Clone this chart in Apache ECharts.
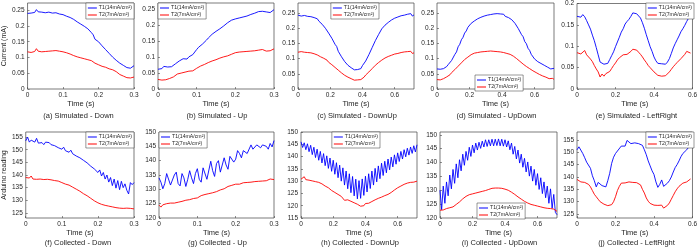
<!DOCTYPE html>
<html><head><meta charset="utf-8">
<script src="https://cdn.jsdelivr.net/npm/echarts@6/dist/echarts.min.js"></script>
<style>html,body{margin:0;padding:0;background:#fff}#c{width:700px;height:251px}</style>
</head><body><div id="c"></div>
<script>
// ---------- data ----------
const NAME1 = 'T1(14mA/cm²)';
const NAME2 = 'T2(7mA/cm²)';
const captions = ['(a) Simulated - Down','(b) Simulated - Up','(c) Simulated - DownUp','(d) Simulated - UpDown','(e) Simulated - LeftRight',
                  '(f) Collected - Down','(g) Collected - Up','(h) Collected - DownUp','(i) Collected - UpDown','(j) Collected - LeftRight'];
const xTicks03 = [0, 0.1, 0.2, 0.3];
const xTicks07 = [0, 0.2, 0.4, 0.6];
const xTicks06 = [0, 0.2, 0.4, 0.6];
const yTicksSim = [0, 0.05, 0.1, 0.15, 0.2, 0.25];
const yTicksE = [0, 0.05, 0.1, 0.15, 0.2];
const yTicksF = [125, 130, 135, 140, 145, 150, 155];
const yTicksG = [120, 125, 130, 135, 140, 145, 150];
const yTicksH = [115, 120, 125, 130, 135, 140, 145, 150];
const yTicksI = [120, 125, 130, 135, 140, 145, 150];
const yTicksJ = [125, 130, 135, 140, 145, 150, 155];

// (a) Simulated - Down, sampled every 0.005 s
const T1a = [0.240,0.244,0.241,0.247,0.243,0.252,0.245,0.249,0.244,0.248,
 0.242,0.246,0.244,0.247,0.241,0.245,0.242,0.243,0.238,0.240,
 0.236,0.237,0.231,0.233,0.227,0.225,0.221,0.219,0.213,0.212,
 0.206,0.204,0.199,0.196,0.191,0.186,0.179,0.172,0.158,0.155,
 0.150,0.146,0.137,0.133,0.125,0.121,0.113,0.110,0.101,0.097,
 0.091,0.088,0.082,0.079,0.075,0.071,0.068,0.070,0.066,0.069,
 0.074];
const T2a = [0.118,0.121,0.116,0.122,0.119,0.128,0.120,0.124,0.118,0.122,
 0.119,0.123,0.120,0.122,0.121,0.119,0.122,0.118,0.120,0.116,
 0.118,0.114,0.115,0.110,0.111,0.105,0.106,0.101,0.102,0.098,
 0.099,0.095,0.096,0.092,0.093,0.089,0.090,0.085,0.082,0.079,
 0.077,0.074,0.072,0.068,0.069,0.065,0.064,0.060,0.061,0.057,
 0.055,0.050,0.046,0.043,0.041,0.038,0.036,0.034,0.035,0.033,
 0.038];
// (b) Simulated - Up, every 0.005 s
const T1b = [0.062,0.068,0.064,0.071,0.067,0.069,0.065,0.070,0.074,0.079,
 0.083,0.088,0.091,0.095,0.097,0.094,0.101,0.103,0.108,0.114,
 0.124,0.131,0.136,0.141,0.146,0.153,0.160,0.166,0.172,0.176,
 0.181,0.185,0.189,0.194,0.198,0.203,0.208,0.212,0.216,0.217,
 0.220,0.219,0.223,0.221,0.226,0.224,0.229,0.231,0.234,0.233,
 0.238,0.241,0.243,0.248,0.244,0.246,0.242,0.245,0.240,0.244,
 0.249];
const T2b = [0.030,0.034,0.028,0.032,0.029,0.031,0.033,0.036,0.038,0.042,
 0.047,0.044,0.050,0.048,0.053,0.051,0.056,0.058,0.057,0.062,
 0.065,0.069,0.072,0.075,0.077,0.081,0.083,0.085,0.088,0.090,
 0.092,0.094,0.097,0.098,0.101,0.100,0.104,0.106,0.109,0.112,
 0.114,0.113,0.116,0.115,0.117,0.114,0.118,0.116,0.119,0.117,
 0.120,0.118,0.122,0.120,0.124,0.121,0.119,0.118,0.120,0.122,
 0.126];
// (c) Simulated - DownUp, every 0.01 s
const T1c = [0.243,0.246,0.240,0.245,0.242,0.244,0.239,0.241,0.238,0.240,
 0.235,0.230,0.231,0.223,0.222,0.213,0.212,0.200,0.199,0.184,
 0.182,0.167,0.163,0.147,0.140,0.124,0.119,0.106,0.102,0.090,
 0.087,0.078,0.078,0.070,0.072,0.063,0.066,0.064,0.067,0.067,
 0.077,0.077,0.092,0.096,0.113,0.118,0.136,0.141,0.159,0.163,
 0.179,0.183,0.198,0.198,0.210,0.209,0.219,0.217,0.227,0.224,
 0.233,0.230,0.237,0.235,0.241,0.237,0.243,0.239,0.246,0.242,
 0.248,0.240,0.244];
const T2c = [0.121,0.117,0.123,0.118,0.121,0.116,0.120,0.117,0.119,0.115,
 0.116,0.111,0.112,0.106,0.106,0.101,0.101,0.095,0.095,0.088,
 0.088,0.080,0.080,0.071,0.070,0.062,0.060,0.053,0.052,0.045,
 0.045,0.039,0.040,0.034,0.035,0.029,0.031,0.030,0.033,0.031,
 0.037,0.039,0.046,0.048,0.056,0.059,0.067,0.070,0.078,0.080,
 0.087,0.089,0.095,0.096,0.102,0.102,0.107,0.107,0.111,0.110,
 0.115,0.113,0.117,0.115,0.120,0.117,0.122,0.118,0.123,0.119,
 0.124,0.117,0.119];
// (d) Simulated - UpDown, every 0.01 s
const T1d = [0.066,0.070,0.065,0.069,0.067,0.072,0.074,0.081,0.084,0.094,
 0.100,0.114,0.122,0.139,0.147,0.162,0.170,0.184,0.191,0.203,
 0.206,0.216,0.216,0.224,0.224,0.231,0.229,0.236,0.234,0.240,
 0.236,0.243,0.238,0.245,0.240,0.247,0.241,0.248,0.243,0.247,
 0.242,0.246,0.239,0.242,0.235,0.235,0.228,0.227,0.216,0.212,
 0.199,0.194,0.179,0.172,0.156,0.149,0.134,0.127,0.114,0.110,
 0.099,0.098,0.090,0.091,0.084,0.086,0.078,0.080,0.072,0.071,
 0.066,0.072,0.068];
const T2d = [0.031,0.035,0.030,0.036,0.034,0.039,0.040,0.046,0.047,0.054,
 0.057,0.064,0.067,0.075,0.078,0.086,0.089,0.097,0.100,0.105,
 0.107,0.113,0.114,0.118,0.118,0.120,0.119,0.122,0.119,0.123,
 0.120,0.124,0.121,0.125,0.121,0.124,0.120,0.123,0.119,0.122,
 0.119,0.120,0.116,0.117,0.113,0.114,0.109,0.108,0.102,0.100,
 0.094,0.091,0.085,0.082,0.076,0.074,0.068,0.067,0.061,0.060,
 0.055,0.054,0.049,0.048,0.044,0.043,0.039,0.039,0.035,0.034,
 0.030,0.035,0.032];
// (e) Simulated - LeftRight, every 0.01 s
const T1e = [0.170,0.172,0.168,0.174,0.169,0.160,0.150,0.140,0.126,0.113,
 0.097,0.080,0.063,0.066,0.058,0.062,0.060,0.069,0.078,0.087,
 0.099,0.110,0.121,0.133,0.141,0.152,0.158,0.163,0.170,0.178,
 0.180,0.176,0.172,0.166,0.155,0.142,0.127,0.113,0.099,0.088,
 0.075,0.066,0.060,0.057,0.059,0.055,0.058,0.063,0.071,0.083,
 0.096,0.106,0.115,0.124,0.134,0.141,0.149,0.158,0.166];
const T2e = [0.085,0.088,0.082,0.086,0.090,0.080,0.076,0.070,0.064,0.055,
 0.047,0.040,0.028,0.035,0.030,0.036,0.038,0.041,0.048,0.055,
 0.061,0.068,0.073,0.077,0.080,0.082,0.081,0.084,0.088,0.093,
 0.089,0.091,0.086,0.081,0.075,0.068,0.062,0.055,0.050,0.046,
 0.040,0.036,0.032,0.028,0.030,0.026,0.031,0.034,0.040,0.046,
 0.052,0.057,0.062,0.066,0.071,0.075,0.081,0.088,0.092,0.084];
// (f) Collected - Down, every 0.005 s
const T1f = [153.5,155.0,153.0,153.8,153.2,153.0,154.5,152.6,153.3,152.8,
 152.0,153.0,152.4,152.8,152.0,152.5,151.6,152.2,150.8,151.5,
 150.2,151.0,149.6,150.3,149.0,149.8,148.4,149.0,147.5,148.2,
 146.8,147.4,145.8,146.5,144.8,145.4,143.5,144.2,142.4,143.0,
 141.0,142.0,139.6,141.0,138.4,140.0,137.2,139.0,135.8,138.4,
 134.8,137.8,134.2,137.5,135.0,136.5,134.0,132.5,137.0,136.2,
 137.0];
const T2f = [139.0,138.6,138.8,139.6,138.4,138.7,138.3,138.6,138.4,138.5,
 138.2,138.6,138.3,138.5,138.1,138.4,137.8,137.4,137.6,137.2,
 137.0,136.8,136.4,136.5,136.0,135.6,135.2,134.8,134.4,134.0,
 133.6,133.0,132.6,132.2,131.8,131.2,130.8,130.2,129.8,129.4,
 129.0,128.7,128.4,128.2,128.0,127.9,127.7,127.6,127.4,127.2,
 127.1,127.0,126.9,127.1,126.8,126.7,126.9,126.6,126.8,126.5,
 126.6];
// (g) Collected - Up, every 0.005 s
const T1g = [134.0,132.5,130.2,132.0,135.5,135.8,131.5,131.0,135.0,136.0,
 132.0,131.2,135.5,134.0,131.0,133.5,136.5,134.0,132.0,135.5,
 137.2,133.5,132.5,137.5,138.0,133.5,134.0,139.8,136.5,134.5,
 139.0,140.0,136.0,136.0,141.0,138.5,137.0,141.5,142.0,139.5,
 140.5,143.5,142.5,141.0,143.5,144.0,142.5,143.0,145.5,144.0,
 143.5,145.5,146.0,144.5,145.5,146.0,145.0,144.0,146.0,144.8,
 147.0];
const T2g = [124.5,123.8,124.6,124.2,125.0,124.6,125.2,124.8,125.2,125.0,
 125.5,125.2,125.8,125.6,126.2,126.0,126.4,126.3,126.8,127.2,
 127.0,127.6,127.8,127.5,128.2,128.0,128.5,128.3,128.8,129.0,
 129.2,129.4,129.8,129.6,130.2,130.8,131.0,130.9,131.4,131.3,
 131.8,132.0,131.8,132.1,132.3,132.1,132.4,132.6,132.5,132.8,
 132.7,133.0,132.8,133.2,132.9,133.4,133.0,133.3,133.6,133.1,
 133.4];
// (h) Collected - DownUp, every 0.01 s
const T1h = [146.0,143.7,145.6,142.8,145.2,142.0,144.6,140.8,143.8,139.6,
 143.0,138.5,142.1,137.4,141.2,136.3,140.3,135.2,139.4,134.0,
 138.5,132.8,137.5,131.4,136.5,130.0,135.4,128.4,134.1,126.9,
 133.0,125.3,131.9,124.0,130.8,122.8,130.2,123.0,130.9,124.2,
 132.0,125.6,133.0,127.0,134.1,128.4,135.2,129.7,136.2,131.0,
 137.3,132.3,138.1,133.4,139.0,134.6,139.8,135.8,140.7,136.9,
 141.5,138.0,142.1,139.0,142.8,139.9,143.4,140.6,143.9,141.3,
 144.4,141.9,144.8];
const T2h = [130.8,130.2,131.8,130.6,130.9,130.4,130.6,130.1,130.3,129.8,
 130.0,129.5,129.6,128.9,128.6,128.0,127.6,127.3,126.6,126.2,
 125.9,125.4,125.0,124.6,124.2,123.8,123.6,122.2,123.0,122.4,
 122.1,121.8,121.6,121.2,120.8,120.6,120.2,119.8,120.4,120.0,
 120.9,121.2,121.0,121.5,121.7,122.2,122.4,122.8,123.0,123.3,
 123.5,123.9,124.1,124.4,124.6,125.0,125.4,125.8,126.4,126.9,
 127.3,127.7,128.0,128.4,128.7,128.9,129.2,129.4,129.5,129.7,
 129.6,129.9,130.0];
// (i) Collected - UpDown, every 0.01 s
const T1i = [130.0,123.0,131.5,125.3,133.0,128.0,135.5,130.5,137.5,132.5,
 139.5,134.5,141.0,137.0,143.0,139.0,144.0,140.8,145.5,142.2,
 146.3,143.5,147.0,144.5,147.3,145.1,147.7,145.6,148.2,145.8,
 148.2,146.0,148.4,146.0,148.4,146.1,148.5,146.0,148.4,145.9,
 148.2,145.6,147.8,144.6,147.0,143.0,145.8,141.3,144.5,139.8,
 143.0,138.3,141.5,136.6,140.2,135.1,138.7,133.3,137.5,131.8,
 136.0,130.3,134.5,128.8,133.0,127.3,131.5,125.3,130.5,123.5,
 128.5,122.0,121.2];
const T2i = [122.8,123.4,122.9,123.6,123.4,123.9,123.7,124.2,124.0,124.6,
 124.9,125.4,125.8,126.3,126.9,127.4,127.8,128.0,128.4,128.3,
 128.7,128.6,129.0,128.9,129.3,129.2,129.6,129.4,129.9,129.7,
 130.3,130.1,130.7,130.3,130.8,130.4,130.8,130.5,130.7,130.2,
 130.4,129.9,130.0,129.4,129.3,128.8,128.5,128.0,127.6,127.2,
 126.8,126.3,126.0,125.6,125.4,125.0,124.9,124.6,124.6,124.2,
 124.3,123.9,124.0,123.6,123.7,123.4,123.5,123.2,123.4,123.0,
 123.2,122.6,122.4];
// (j) Collected - LeftRight, every 0.01 s
const T1j = [151.0,152.2,151.5,149.5,147.8,146.0,145.5,143.5,140.5,138.5,
 136.0,137.8,138.5,136.5,135.8,136.0,138.5,141.5,145.5,148.0,
 149.5,150.5,151.0,152.5,152.8,152.5,154.8,155.0,153.5,154.0,
 153.8,153.0,153.5,153.2,152.8,151.0,149.0,146.5,144.5,142.5,
 141.0,138.0,135.8,137.0,138.8,136.2,135.8,137.5,138.5,140.0,
 142.0,143.8,145.0,146.5,148.2,149.5,149.8,151.0,152.0,152.2];
const T2j = [139.0,138.2,138.0,138.3,137.8,137.6,137.0,136.0,134.5,133.0,
 132.0,131.0,130.0,129.5,129.0,128.6,128.4,127.6,128.8,130.0,
 132.0,134.5,136.2,137.5,138.0,137.6,138.2,138.0,138.4,137.8,
 138.1,137.7,137.5,136.8,135.0,133.5,131.5,130.2,129.3,128.8,
 128.6,128.4,128.5,128.3,128.6,127.4,128.2,128.5,129.5,131.0,
 132.5,134.0,135.2,136.2,136.8,137.5,137.8,138.0,138.6,139.2];

// ---------- panels ----------
const panels = [
  {s1:T1a, s2:T2a, dt:0.005, x:[0,0.3],  xt:xTicks03, y:[0,0.273],   yt:yTicksSim},
  {s1:T1b, s2:T2b, dt:0.005, x:[0,0.3],  xt:xTicks03, y:[0,0.27],    yt:yTicksSim},
  {s1:T1c, s2:T2c, dt:0.01,  x:[0,0.72], xt:xTicks07, y:[0,0.283],   yt:yTicksSim},
  {s1:T1d, s2:T2d, dt:0.01,  x:[0,0.72], xt:xTicks07, y:[0,0.283],   yt:yTicksSim},
  {s1:T1e, s2:T2e, dt:0.01,  x:[0,0.6],  xt:xTicks06, y:[0,0.2],     yt:yTicksE},
  {s1:T1f, s2:T2f, dt:0.005, x:[0,0.3],  xt:xTicks03, y:[123,157],   yt:yTicksF},
  {s1:T1g, s2:T2g, dt:0.005, x:[0,0.3],  xt:xTicks03, y:[120,150],   yt:yTicksG},
  {s1:T1h, s2:T2h, dt:0.01,  x:[0,0.72], xt:xTicks07, y:[115,150],   yt:yTicksH},
  {s1:T1i, s2:T2i, dt:0.01,  x:[0,0.72], xt:xTicks07, y:[120,151],   yt:yTicksI},
  {s1:T1j, s2:T2j, dt:0.01,  x:[0,0.6],  xt:xTicks06, y:[123.4,158.2], yt:yTicksJ}
];
const layout = [
  {l:21,  t:3,   w:113, h:86, leg:{right:566, top:3},   yName:'Current (mA)', capY:116},
  {l:158, t:3,   w:116, h:86, leg:{left:158, top:3},    capY:116},
  {l:298, t:3,   w:116, h:86, leg:{right:321, top:3},   capY:116},
  {l:437, t:3,   w:117, h:86, leg:{left:475, top:75},   capY:116},
  {l:577, t:3,   w:117, h:86, leg:{right:6, top:3},     capY:116},
  {l:20,  t:132, w:114, h:86, leg:{right:566, top:132}, yName:'Arduino reading', capY:243},
  {l:159, t:132, w:115, h:86, leg:{left:159, top:132},  capY:243},
  {l:301, t:132, w:116, h:86, leg:{right:320, top:132}, capY:243},
  {l:440, t:132, w:117, h:86, leg:{left:477, top:203},  capY:243},
  {l:577, t:132, w:117, h:86, leg:{right:6, top:132},   capY:243}
];

const FONT = '"Liberation Sans", Arial, Helvetica, sans-serif';
const TXT = '#262626';
function pairs(vals, dt) { return vals.map((v, i) => [Math.round(i * dt * 10000) / 10000, v]); }

const grid = [], xAxis = [], yAxis = [], series = [], legend = [], graphic = [];
panels.forEach((p, i) => {
  const L = layout[i];
  grid.push({left:L.l, top:L.t, width:L.w, height:L.h, show:true, borderColor:'#444', borderWidth:0.7, backgroundColor:'transparent'});
  xAxis.push({
    gridIndex:i, type:'value', min:p.x[0], max:p.x[1],
    axisLine:{show:false}, splitLine:{show:false},
    axisTick:{show:true, inside:true, length:2, customValues:p.xt, lineStyle:{color:'#444', width:0.6}},
    axisLabel:{customValues:p.xt, fontSize:6.5, color:TXT, margin:3, fontFamily:FONT},
    name:'Time (s)', nameLocation:'middle', nameGap:11,
    nameTextStyle:{fontSize:7.5, color:TXT, fontFamily:FONT}
  });
  const ya = {
    gridIndex:i, type:'value', min:p.y[0], max:p.y[1],
    axisLine:{show:false}, splitLine:{show:false},
    axisTick:{show:true, inside:true, length:2, customValues:p.yt, lineStyle:{color:'#444', width:0.6}},
    axisLabel:{customValues:p.yt, fontSize:6.5, color:TXT, margin:3, fontFamily:FONT}
  };
  if (L.yName) {
    ya.name = L.yName; ya.nameLocation = 'middle'; ya.nameGap = 12;
    ya.nameTextStyle = {fontSize:7, color:TXT, fontFamily:FONT};
  }
  yAxis.push(ya);
  series.push({type:'line', name:NAME1, xAxisIndex:i, yAxisIndex:i, data:pairs(p.s1, p.dt),
    symbol:'none', showSymbol:false, lineStyle:{color:'#0000ff', width:0.9}, itemStyle:{color:'#0000ff'}, animation:false});
  series.push({type:'line', name:NAME2, xAxisIndex:i, yAxisIndex:i, data:pairs(p.s2, p.dt),
    symbol:'none', showSymbol:false, lineStyle:{color:'#ff0000', width:0.9}, itemStyle:{color:'#ff0000'}, animation:false});
  legend.push(Object.assign({
    id:'leg' + i, show:true,
    orient:'vertical', data:[NAME1, NAME2], icon:'rect', itemWidth:9, itemHeight:1, itemGap:1,
    padding:[2,2,1,2], borderColor:'#333', borderWidth:0.5, backgroundColor:'#fff',
    selectedMode:false, z:10,
    textStyle:{fontSize:5.2, lineHeight:6, color:TXT, fontFamily:FONT, padding:[0,0,0,-3]}
  }, L.leg));
  graphic.push({type:'text', x:L.l + L.w / 2 + 1, y:L.capY, z:10,
    style:{text:captions[i], fill:TXT, font:'7.5px ' + FONT, textAlign:'center', textVerticalAlign:'middle'}});
});

const chart = echarts.init(document.getElementById('c'));
chart.setOption({animation:false, backgroundColor:'#fff', grid, xAxis, yAxis, series, legend, graphic});
</script>
</body></html>
